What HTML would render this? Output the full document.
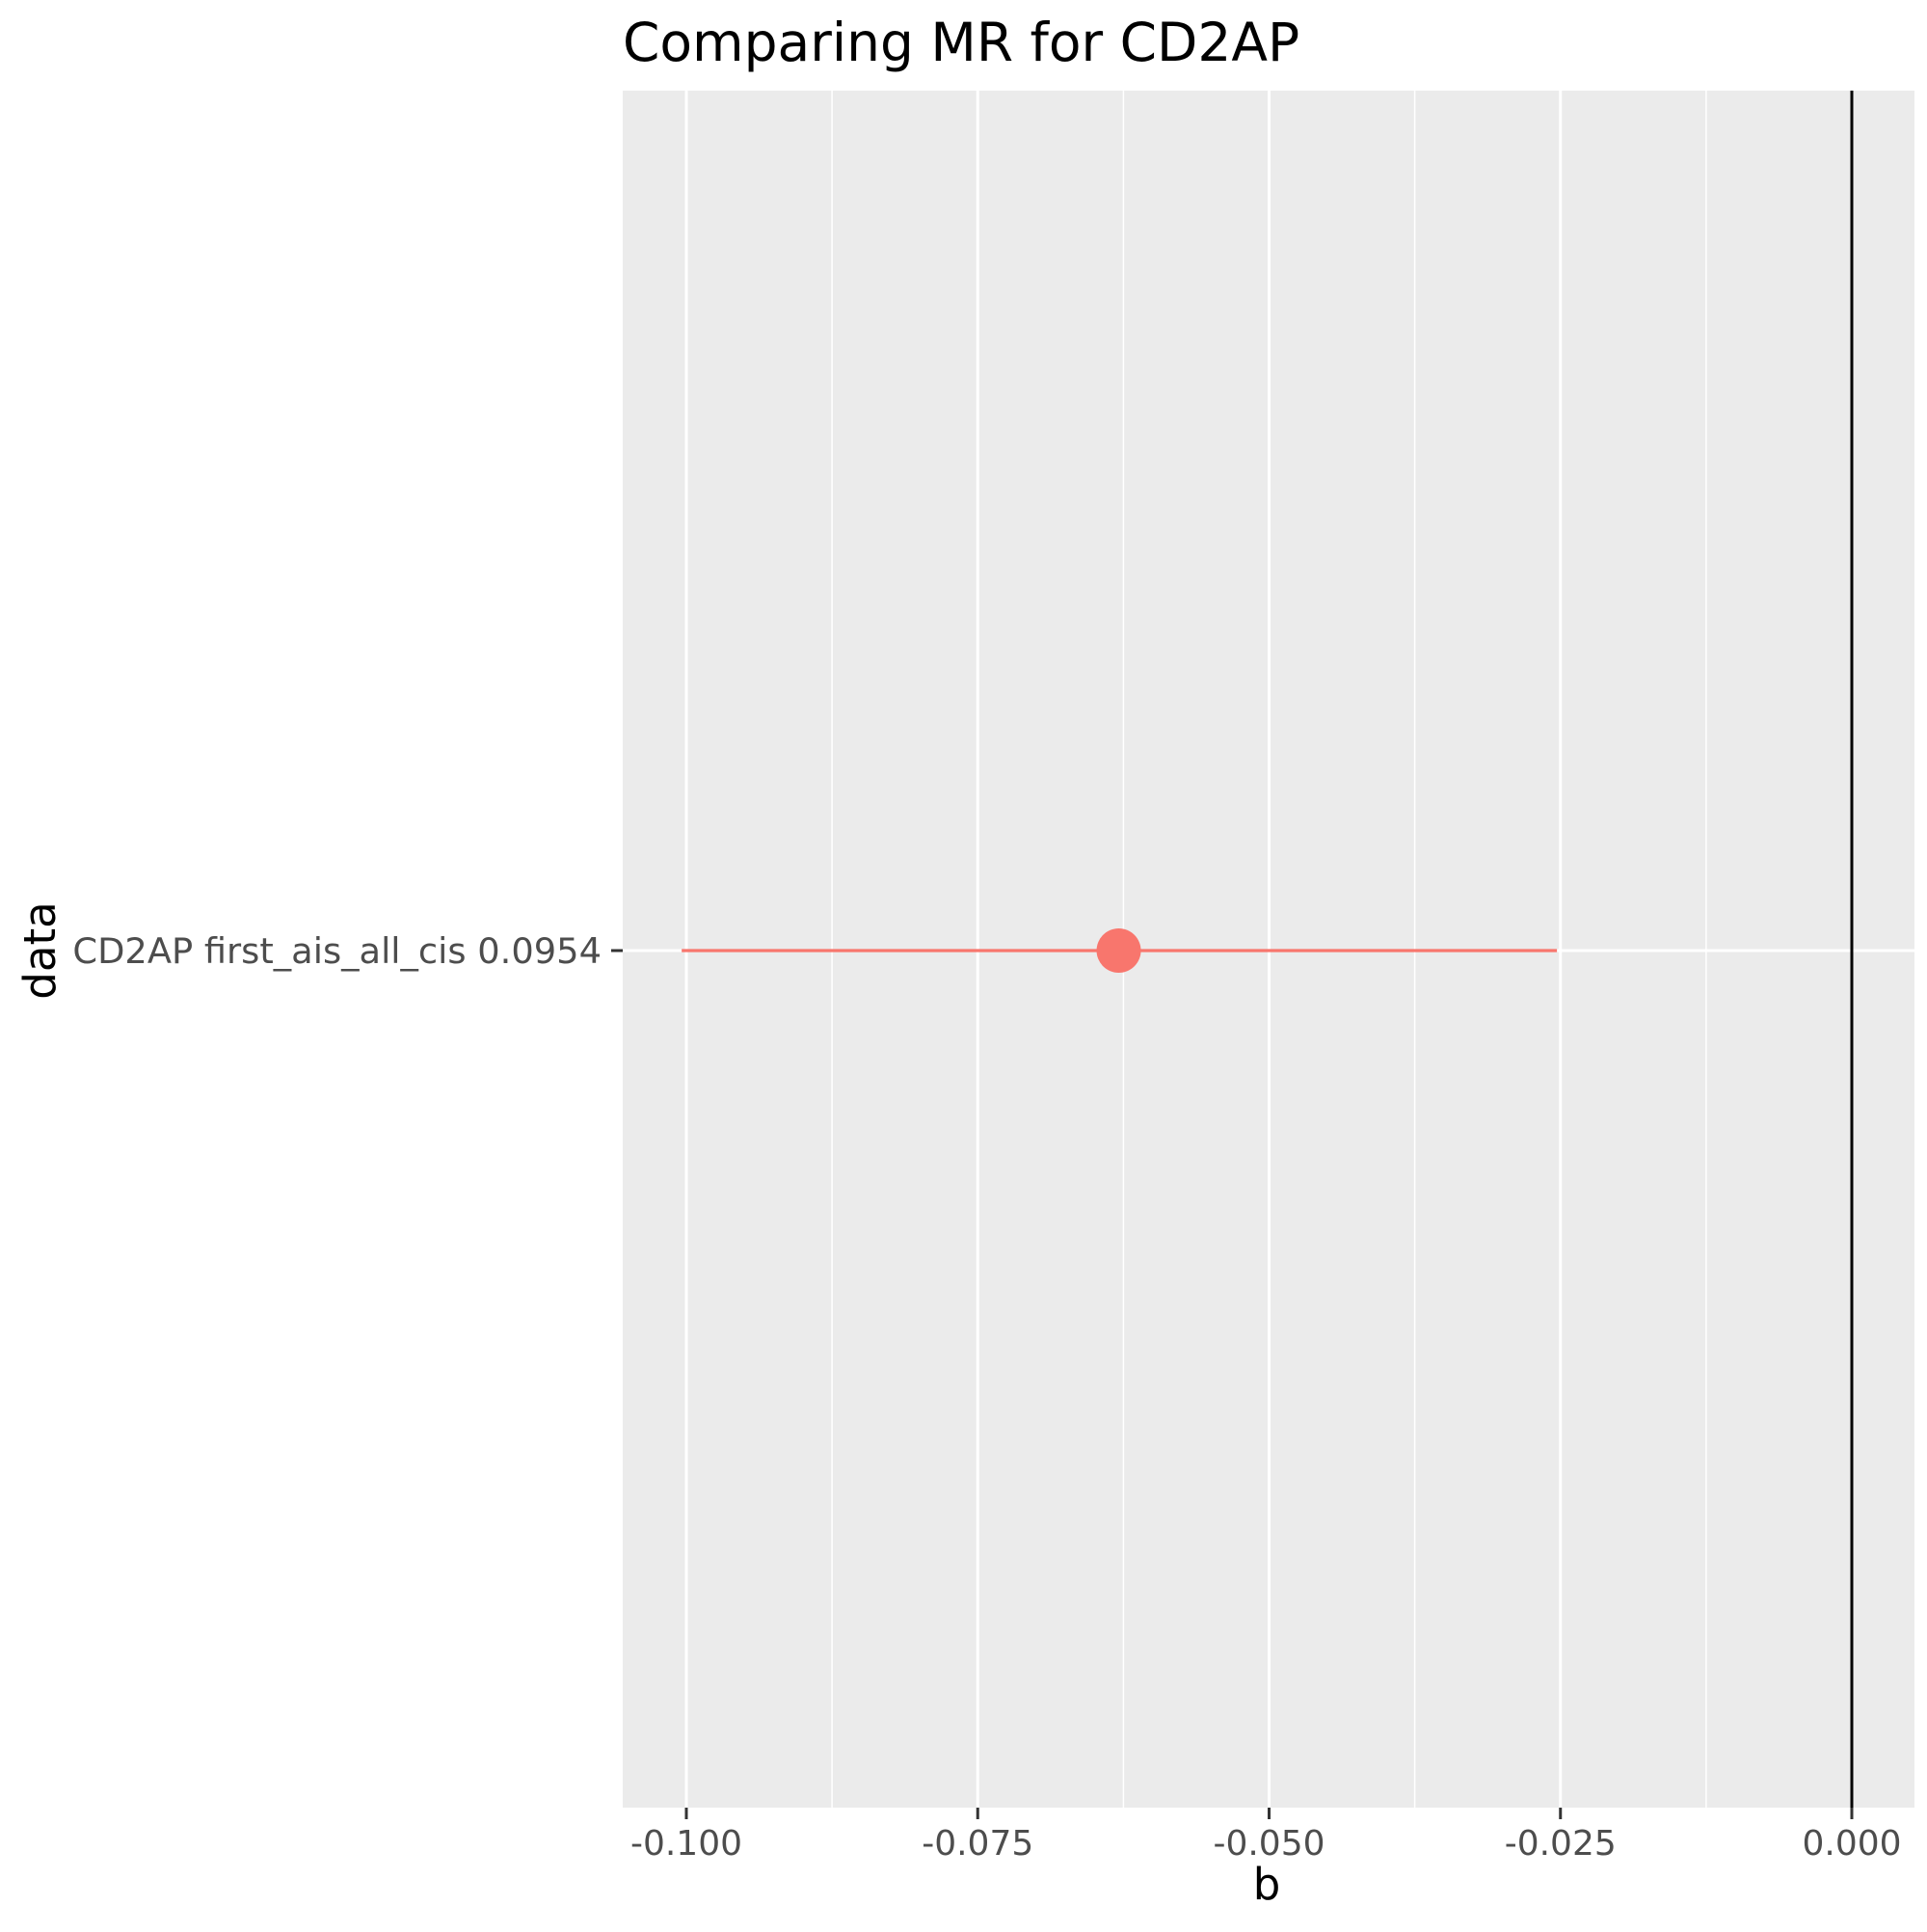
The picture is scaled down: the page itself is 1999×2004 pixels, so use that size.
<!DOCTYPE html>
<html><head><meta charset="utf-8"><style>
body{margin:0;background:#fff}
svg text{font-family:"DejaVu Sans","Liberation Sans",sans-serif}
</style></head><body>
<svg id="chart" width="1999" height="1999" viewBox="0 0 1999 1999" xmlns="http://www.w3.org/2000/svg">
<rect width="1999" height="1999" fill="#fff"/>
<text x="646" y="63" font-size="55" fill="#000">Comparing MR for CD2AP</text>
<rect x="646" y="94" width="1340" height="1781" fill="#ebebeb"/>
<g id="grid"></g>
<g id="marks"></g>
<g id="axes"></g>
<text x="1314" y="1970" font-size="45" text-anchor="middle" fill="#000">b</text>
<text transform="translate(57,986) rotate(-90)" font-size="45" text-anchor="middle" fill="#000">data</text>
</svg>
<script>
const categories = ["CD2AP first_ais_all_cis 0.0954"];
const estimates = [-0.0629];
const ciLow = [-0.1004];
const ciHigh = [-0.0253];
const xTicks = [-0.100, -0.075, -0.050, -0.025, 0.000];
const xTickLabels = ["-0.100", "-0.075", "-0.050", "-0.025", "0.000"];
const refLine = [0];

const NS = "http://www.w3.org/2000/svg";
const X0 = 712, X1 = 1921;
function xs(v){ return X0 + (v - (-0.1)) / 0.1 * (X1 - X0); }
function ys(i){ return 986 + i * 100; }
function mk(tag, attrs, parent){ const e = document.createElementNS(NS, tag); for (const k in attrs) e.setAttribute(k, attrs[k]); parent.appendChild(e); return e; }
const grid = document.getElementById('grid'), marks = document.getElementById('marks'), axes = document.getElementById('axes');

for (let i = 0; i < xTicks.length - 1; i++) {
  const m = (xTicks[i] + xTicks[i+1]) / 2;
  const l = mk('line', {x1: xs(m), x2: xs(m), y1: 94, y2: 1875, stroke: '#fff', 'stroke-width': 1.5}, grid);
  
  
}
xTicks.forEach((t, i) => {
  const l = mk('line', {x1: xs(t), x2: xs(t), y1: 94, y2: 1875, stroke: '#fff', 'stroke-width': 3}, grid);
  
  
  const tk = mk('line', {x1: xs(t), x2: xs(t), y1: 1875, y2: 1887, stroke: '#333', 'stroke-width': 3}, axes);
  
  
  const tx = mk('text', {x: xs(t), y: 1924, 'font-size': 36, 'text-anchor': 'middle', fill: '#4d4d4d'}, axes);
  tx.textContent = xTickLabels[i];
  
  
});
categories.forEach((c, i) => {
  const y = ys(i);
  const g = mk('line', {x1: 646, x2: 1986, y1: y, y2: y, stroke: '#fff', 'stroke-width': 3}, grid);
  
  
  const tk = mk('line', {x1: 634, x2: 646, y1: y, y2: y, stroke: '#333', 'stroke-width': 3}, axes);
  
  
  const tx = mk('text', {x: 624, y: y + 13, 'font-size': 36.8, 'text-anchor': 'end', fill: '#4d4d4d'}, axes);
  tx.textContent = c;
  
  
  const ci = mk('line', {x1: xs(ciLow[i]), x2: xs(ciHigh[i]), y1: y, y2: y, stroke: '#f8766d', 'stroke-width': 3.2}, marks);
  
  
  const p = mk('circle', {cx: xs(estimates[i]), cy: y, r: 23, fill: '#f8766d'}, marks);
  
  
});
refLine.forEach(v => {
  const l = mk('line', {x1: xs(v), x2: xs(v), y1: 94, y2: 1875, stroke: '#000', 'stroke-width': 3}, marks);
  
  
});
</script>
</body></html>
